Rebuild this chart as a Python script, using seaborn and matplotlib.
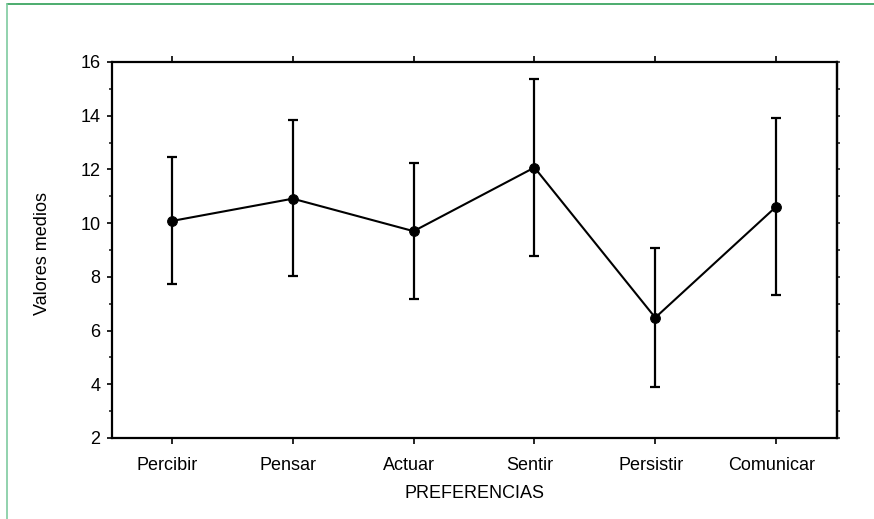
import numpy as np
import pandas as pd
import matplotlib
matplotlib.use('Agg')
import matplotlib.pyplot as plt
import matplotlib.transforms as mtransforms
from matplotlib.lines import Line2D
from matplotlib.ticker import MultipleLocator
import seaborn as sns

# Data
categories = ['Percibir', 'Pensar', 'Actuar', 'Sentir', 'Persistir', 'Comunicar']
means = [10.08, 10.91, 9.70, 12.07, 6.48, 10.61]
upper = [12.45, 13.83, 12.24, 15.36, 9.09, 13.92]
lower = [7.72, 8.02, 7.17, 8.79, 3.91, 7.34]

df = pd.DataFrame({'cat': categories, 'mean': means, 'upper': upper, 'lower': lower})
df['pos'] = np.arange(len(df))

sns.set_style('white')
plt.rcParams['font.family'] = ['Liberation Sans', 'DejaVu Sans']

fig = plt.figure(figsize=(8.74, 5.19), dpi=100)
ax = fig.add_axes([0.1276, 0.1561, 0.8295, 0.7245])

# error bars
ax.errorbar(df['pos'], df['mean'],
            yerr=[df['mean'] - df['lower'], df['upper'] - df['mean']],
            fmt='none', ecolor='black', elinewidth=1.6, capsize=3.6, capthick=1.6)
# line with markers
sns.lineplot(data=df, x='pos', y='mean', ax=ax, color='black', linewidth=1.5,
             marker='o', markersize=7, markeredgecolor='black')

ax.set_xlim(-0.5, 5.5)
ax.set_ylim(2, 16)
ax.set_xticks(df['pos'])
ax.set_xticklabels(categories)
ax.yaxis.set_major_locator(MultipleLocator(2))
ax.yaxis.set_minor_locator(MultipleLocator(1))
ax.set_xlabel('PREFERENCIAS', fontsize=13, color='black')
ax.set_ylabel('Valores medios', fontsize=13, color='black')
ax.xaxis.set_label_coords(0.5, -0.124)
ax.yaxis.set_label_coords(-0.084, 0.49)

for s in ax.spines.values():
    s.set_linewidth(1.6)
    s.set_color('black')

ax.tick_params(axis='x', which='major', direction='out', length=4.5, width=1.2,
               top=True, bottom=True, labelsize=13, pad=9, colors='black')
ax.tick_params(axis='y', which='major', direction='out', length=3.6, width=1.2,
               left=True, right=False, labelsize=13, pad=4.3, colors='black')
ax.tick_params(axis='y', which='minor', direction='out', length=2.2, width=1.2,
               left=True, right=False)

# labels in the reference sit a little left of their ticks
offset = mtransforms.ScaledTranslation(-0.045, 0, fig.dpi_scale_trans)
for lbl in ax.get_xticklabels():
    lbl.set_transform(lbl.get_transform() + offset)

# short unlabeled ticks on the right spine
sec = ax.secondary_yaxis('right')
sec.yaxis.set_major_locator(MultipleLocator(1))
sec.tick_params(direction='out', length=2.2, width=1.2, labelright=False)
sec.spines['right'].set_linewidth(1.6)

# green page frame (top and left edge)
fig.add_artist(Line2D([0.008, 1.0], [0.992, 0.992], color='#2e9e55', linewidth=1.2,
                      transform=fig.transFigure))
fig.add_artist(Line2D([0.008, 0.008], [0.0, 0.992], color='#7fcba0', linewidth=1.2,
                      transform=fig.transFigure))

fig.savefig('out.png', dpi=100)
